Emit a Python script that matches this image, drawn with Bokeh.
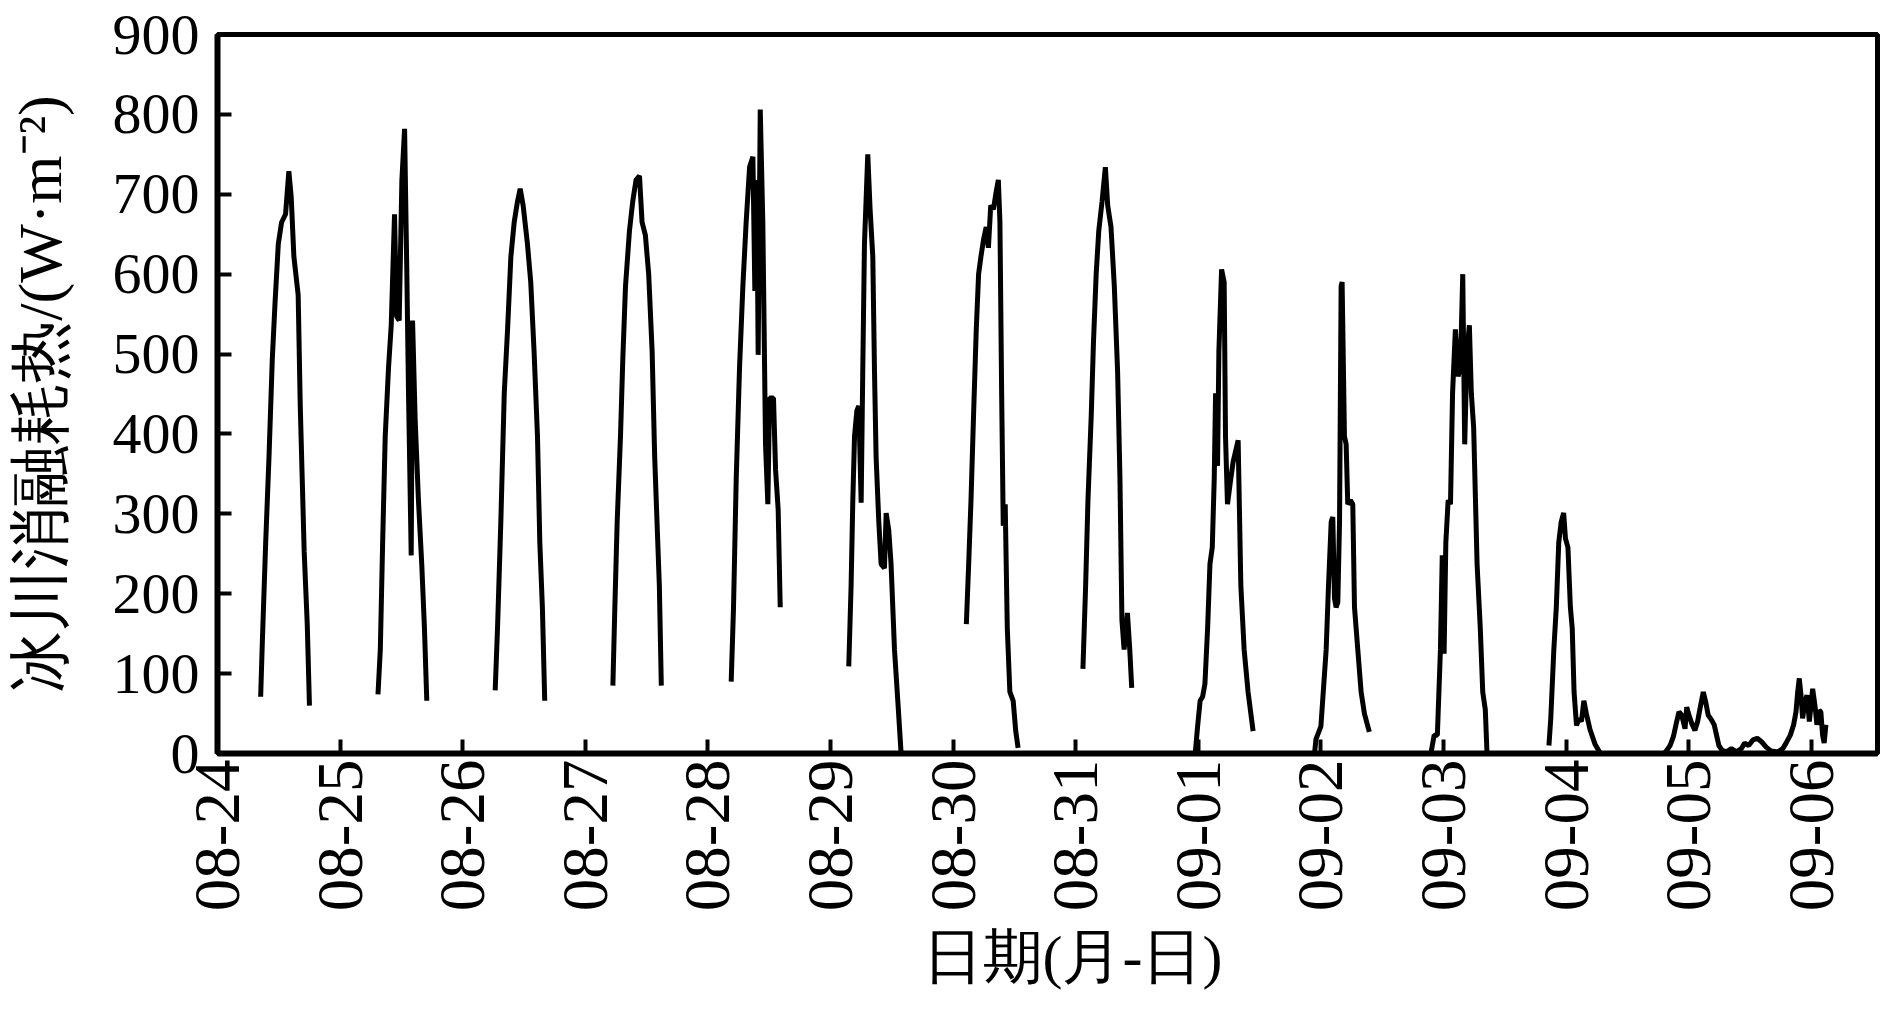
import math
from bokeh.plotting import figure
from bokeh.models import FixedTicker, Range1d, Title
from bokeh.embed import file_html
from bokeh.resources import INLINE

# ---- tick labels / axes -------------------------------------------------
x_tick_labels = ["08-24", "08-25", "08-26", "08-27", "08-28", "08-29", "08-30",
                 "08-31", "09-01", "09-02", "09-03", "09-04", "09-05", "09-06"]
y_ticks = [0, 100, 200, 300, 400, 500, 600, 700, 800, 900]
x_label = "日期(月-日)"
y_label = "冰川消融耗热/(W·m⁻²)"

# ---- data: time in days since 08-24 00:00, value in W/m2 -----------------
d0824_t = [0.352, 0.366, 0.393, 0.420, 0.447, 0.469, 0.496, 0.523, 0.555, 0.582,
           0.601, 0.623, 0.658, 0.675, 0.691, 0.707, 0.732, 0.750]
d0824_v = [71, 141, 264, 371, 494, 563, 638, 665, 675, 729,
           697, 622, 574, 435, 344, 253, 162, 60]

d0825_t = [1.309, 1.328, 1.347, 1.368, 1.395, 1.417, 1.444, 1.461, 1.482, 1.504,
           1.526, 1.545, 1.558, 1.580, 1.591, 1.612, 1.639, 1.666, 1.688, 1.707]
d0825_v = [74, 130, 264, 397, 483, 536, 675, 547, 542, 718,
           782, 595, 451, 248, 542, 419, 317, 237, 157, 66]

d0826_t = [2.265, 2.284, 2.311, 2.339, 2.366, 2.393, 2.420, 2.447, 2.469, 2.493,
           2.528, 2.555, 2.582, 2.610, 2.629, 2.650, 2.669]
d0826_v = [79, 157, 290, 451, 531, 622, 665, 691, 707, 686,
           638, 590, 504, 397, 264, 183, 66]

d0827_t = [3.225, 3.241, 3.260, 3.287, 3.306, 3.328, 3.360, 3.387, 3.414, 3.442,
           3.463, 3.490, 3.517, 3.545, 3.566, 3.585, 3.604, 3.620]
d0827_v = [85, 183, 290, 397, 494, 585, 654, 691, 718, 723,
           665, 649, 600, 504, 371, 290, 210, 85]

d0828_t = [4.190, 4.209, 4.231, 4.258, 4.285, 4.312, 4.340, 4.367, 4.383, 4.399,
           4.410, 4.427, 4.448, 4.470, 4.489, 4.503, 4.535, 4.552, 4.573, 4.590]
d0828_v = [90, 183, 344, 483, 584, 665, 734, 747, 579, 718,
           499, 806, 665, 387, 312, 445, 445, 355, 306, 183]

d0829_t = [5.149, 5.168, 5.182, 5.196, 5.215, 5.231, 5.250, 5.263, 5.277, 5.304,
           5.323, 5.345, 5.359, 5.372, 5.394, 5.413, 5.440, 5.454, 5.475, 5.494,
           5.522, 5.549, 5.576]
d0829_v = [109, 210, 317, 397, 429, 435, 314, 477, 638, 750,
           681, 622, 477, 371, 290, 237, 232, 301, 280, 237,
           130, 66, 0]

d0830_t = [6.108, 6.127, 6.146, 6.167, 6.189, 6.208, 6.227, 6.248, 6.270, 6.288,
           6.307, 6.329, 6.350, 6.369, 6.382, 6.396, 6.409, 6.425, 6.442, 6.463,
           6.490, 6.511, 6.530]
d0830_v = [162, 237, 317, 424, 531, 600, 622, 643, 659, 633,
           686, 681, 702, 718, 665, 451, 285, 312, 157, 77,
           66, 28, 7]

d0831_t = [7.059, 7.081, 7.100, 7.127, 7.145, 7.167, 7.188, 7.215, 7.242, 7.261,
           7.288, 7.315, 7.342, 7.361, 7.377, 7.395, 7.422, 7.441, 7.457]
d0831_v = [106, 210, 317, 424, 515, 600, 654, 691, 734, 686,
           659, 585, 477, 344, 167, 130, 176, 130, 82]

d0901_t = [7.975, 7.995, 8.015, 8.035, 8.054, 8.076, 8.095, 8.114, 8.130, 8.141,
           8.157, 8.168, 8.190, 8.211, 8.222, 8.238, 8.265, 8.284, 8.325, 8.347,
           8.374, 8.406, 8.447]
d0901_v = [0, 35, 66, 71, 87, 157, 237, 258, 344, 451,
           360, 504, 606, 590, 397, 312, 344, 365, 392, 210,
           130, 77, 28]

d0902_t = [8.948, 8.960, 9.000, 9.043, 9.062, 9.084, 9.097, 9.111, 9.124, 9.138,
           9.152, 9.165, 9.173, 9.192, 9.206, 9.219, 9.241, 9.260, 9.274, 9.301,
           9.328, 9.355, 9.395]
d0902_v = [0, 18, 34, 130, 210, 290, 296, 194, 183, 189,
           290, 585, 590, 397, 387, 312, 317, 312, 183, 130,
           77, 50, 27]

d0903_t = [9.897, 9.924, 9.950, 9.975, 9.990, 10.005, 10.019, 10.038, 10.057, 10.074,
           10.097, 10.119, 10.138, 10.157, 10.173, 10.192, 10.211, 10.227, 10.246, 10.274,
           10.300, 10.320, 10.341, 10.355]
d0903_v = [0, 23, 23, 130, 248, 125, 264, 317, 312, 451,
           531, 472, 483, 600, 387, 504, 536, 451, 408, 237,
           157, 77, 55, 0]

d0904_t = [10.860, 10.875, 10.900, 10.920, 10.940, 10.960, 10.980, 10.995, 11.015, 11.035,
           11.050, 11.065, 11.085, 11.105, 11.125, 11.145, 11.165, 11.195, 11.235, 11.280,
           11.800]
d0904_v = [10, 44, 130, 183, 264, 290, 301, 269, 258, 183,
           157, 77, 35, 44, 40, 66, 50, 30, 12, 0,
           0]

d0905_t = [11.821, 11.848, 11.875, 11.902, 11.921, 11.943, 11.970, 11.984, 12.002, 12.024,
           12.051, 12.073, 12.092, 12.119, 12.138, 12.159, 12.186, 12.208, 12.227, 12.246,
           12.273, 12.308, 12.348, 12.389, 12.429, 12.456, 12.489, 12.524, 12.559, 12.592,
           12.632, 12.673, 12.727]
d0905_v = [4, 10, 21, 40, 52, 48, 31, 58, 48, 38,
           29, 40, 56, 77, 65, 48, 42, 36, 23, 10,
           4, 2, 6, 2, 6, 13, 10, 17, 19, 15,
           8, 3, 2]

d0906_t = [12.767, 12.794, 12.829, 12.856, 12.875, 12.889, 12.902, 12.916, 12.929, 12.948,
           12.965, 12.984, 13.011, 13.029, 13.046, 13.065, 13.078, 13.092, 13.105, 13.119]
d0906_v = [6, 13, 23, 36, 52, 77, 94, 73, 44, 65,
           73, 40, 81, 61, 36, 54, 52, 23, 13, 36]

# segments separated by data gaps (the last three days are continuous)
segments = [
    (d0824_t, d0824_v), (d0825_t, d0825_v), (d0826_t, d0826_v),
    (d0827_t, d0827_v), (d0828_t, d0828_v), (d0829_t, d0829_v),
    (d0830_t, d0830_v), (d0831_t, d0831_v), (d0901_t, d0901_v),
    (d0902_t, d0902_v), (d0903_t, d0903_v),
    (d0904_t + d0905_t + d0906_t, d0904_v + d0905_v + d0906_v),
]

xs, ys = [], []
for t, v in segments:
    xs += list(t) + [float("nan")]
    ys += list(v) + [float("nan")]

# ---- figure -------------------------------------------------------------
FONT = "Liberation Serif"

p = figure(width=1880, height=1003, output_backend="svg", toolbar_location=None,
           x_range=Range1d(0, 13.54), y_range=Range1d(0, 900),
           min_border_left=217, min_border_right=3, min_border_top=34,
           min_border_bottom=250)
p.background_fill_color = "white"
p.border_fill_color = "white"
p.outline_line_color = "black"
p.outline_line_width = 5
p.xgrid.visible = False
p.ygrid.visible = False

p.line(xs, ys, line_color="black", line_width=5)

for ax in (p.xaxis[0], p.yaxis[0]):
    ax.axis_line_width = 6
    ax.axis_line_color = "black"
    ax.major_tick_in = 14
    ax.major_tick_out = 0
    ax.major_tick_line_width = 4
    ax.major_tick_line_color = "black"
    ax.minor_tick_line_color = None
    ax.major_label_text_font = FONT
    ax.major_label_text_color = "black"
    ax.axis_label_text_font = FONT
    ax.axis_label_text_font_size = "62px"
    ax.axis_label_text_font_style = "normal"
    ax.axis_label_text_color = "black"

p.xaxis.ticker = FixedTicker(ticks=list(range(len(x_tick_labels))))
p.xaxis.major_label_overrides = {i: s for i, s in enumerate(x_tick_labels)}
p.xaxis.major_label_orientation = math.pi / 2
p.xaxis.major_label_text_font_size = "65px"
p.xaxis.major_label_standoff = 6

p.yaxis.ticker = FixedTicker(ticks=y_ticks)
p.yaxis.major_label_text_font_size = "58px"
p.yaxis.major_label_standoff = 18
p.yaxis.axis_label = y_label
p.yaxis.axis_label_standoff = 36

x_title = Title(text=x_label, align="left", offset=705, standoff=14,
                text_font=FONT, text_font_size="60px", text_font_style="normal",
                text_color="black")
p.add_layout(x_title, "below")

open("out.html", "w").write(file_html(p, INLINE))
